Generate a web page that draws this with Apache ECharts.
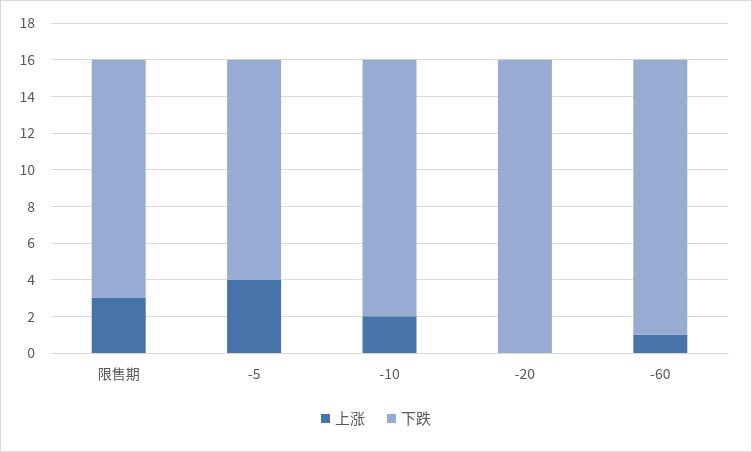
<!DOCTYPE html>
<html>
<head>
<meta charset="utf-8">
<script src="https://cdn.jsdelivr.net/npm/echarts@6/dist/echarts.min.js"></script>
<style>
  html, body { margin: 0; padding: 0; background: #fff; }
  #chart { width: 750px; height: 450px; border: 1px solid #d9d9d9; }
</style>
</head>
<body>
<div id="chart"></div>
<script>
// 数据
var categories = ['限售期', '-5', '-10', '-20', '-60'];
var upValues = [3, 4, 2, 0, 1];
var downValues = [13, 12, 14, 16, 15];
var seriesNames = ['上涨', '下跌'];

var chart = echarts.init(document.getElementById('chart'));
var font = '"Microsoft YaHei", "Noto Sans CJK SC", sans-serif';

var option = {
    animation: false,
    textStyle: { fontFamily: font },
    grid: { left: 50, right: 23, top: 22, bottom: 98, containLabel: false },
    legend: {
        data: seriesNames,
        bottom: 20,
        itemWidth: 9,
        itemHeight: 9,
        itemGap: 22,
        icon: 'rect',
        textStyle: { color: '#595959', fontSize: 15, fontFamily: font }
    },
    xAxis: {
        type: 'category',
        data: categories,
        axisLine: { lineStyle: { color: '#d9d9d9' } },
        axisTick: { show: false },
        axisLabel: { color: '#595959', fontSize: 14, margin: 14, fontFamily: font }
    },
    yAxis: {
        type: 'value',
        min: 0,
        max: 18,
        interval: 2,
        axisLine: { show: false },
        axisTick: { show: false },
        axisLabel: { color: '#595959', fontSize: 14, margin: 16, fontFamily: font },
        splitLine: { lineStyle: { color: '#d9d9d9' } }
    },
    series: [
        {
            name: seriesNames[0],
            type: 'bar',
            stack: 'total',
            barWidth: 54,
            data: upValues,
            itemStyle: { color: '#4674a8' }
        },
        {
            name: seriesNames[1],
            type: 'bar',
            stack: 'total',
            barWidth: 54,
            data: downValues,
            itemStyle: { color: '#97abd3' }
        }
    ]
};
chart.setOption(option);
</script>
</body>
</html>
